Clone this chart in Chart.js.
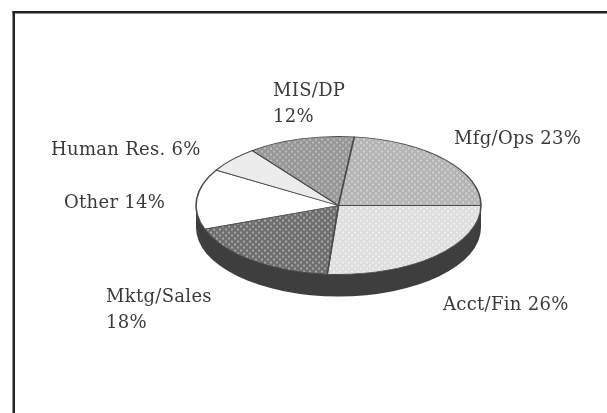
<!DOCTYPE html>
<html>
<head>
<meta charset="utf-8">
<style>html,body{margin:0;padding:0;background:#fff}canvas{display:block}</style>
<script src="https://cdn.jsdelivr.net/npm/chart.js@4"></script>
</head>
<body>
<div style="width:607px;height:413px"><canvas id="pie" width="607" height="413"></canvas></div>
<script>
// Share of staff by function, clockwise from the 3 o'clock position.
const categories = ["Acct/Fin", "Mktg/Sales", "Other", "Human Res.", "MIS/DP", "Mfg/Ops"];
const shares = [26, 18, 14, 6, 12, 23];

// Callout text and where each line of it sits.
const callouts = [
  { lines: ["MIS/DP", "12%"], x: 273, y: 96 },
  { lines: ["Mfg/Ops 23%"], x: 454, y: 144 },
  { lines: ["Human Res. 6%"], x: 51, y: 155 },
  { lines: ["Other 14%"], x: 64, y: 208 },
  { lines: ["Mktg/Sales", "18%"], x: 106, y: 302 },
  { lines: ["Acct/Fin 26%"], x: 443, y: 310 }
];

const RX = 142.5, RY = 69, DEPTH = 22, FACE_Y = 205.5;
const squash = RY / RX;

// Halftone screen: a lattice of pale dots over a flat grey.
function screen(ctx, base, dot) {
  const c = document.createElement("canvas");
  c.width = c.height = 6;
  const g = c.getContext("2d");
  g.fillStyle = base;
  g.fillRect(0, 0, 6, 6);
  g.fillStyle = dot;
  g.fillRect(0, 0, 2, 2);
  g.fillRect(3, 3, 2, 2);
  const p = ctx.createPattern(c, "repeat");
  p.setTransform(new DOMMatrix().scale(1, 1 / squash));
  return p;
}

const ctx = document.getElementById("pie").getContext("2d");
const fills = [
  screen(ctx, "#dedede", "#f0f0f0"),
  screen(ctx, "#6e6e6e", "#a8a8a8"),
  "#ffffff",
  "#ececec",
  screen(ctx, "#979797", "#bcbcbc"),
  screen(ctx, "#b4b4b4", "#d2d2d2")
];

// Flattens the round pie into a disc seen at an angle and draws its rim.
const tiltedDisc = {
  id: "tiltedDisc",
  beforeDatasetsDraw(chart) {
    const arc = chart.getDatasetMeta(0).data[0];
    const c = chart.ctx;
    c.save();
    c.fillStyle = "#3e3e3e";
    c.beginPath();
    c.ellipse(arc.x, FACE_Y + DEPTH, RX, RY, 0, 0, Math.PI);
    c.lineTo(arc.x - RX, FACE_Y);
    c.lineTo(arc.x + RX, FACE_Y);
    c.closePath();
    c.fill();
    c.restore();
    c.save();
    c.translate(0, FACE_Y);
    c.scale(1, squash);
    c.translate(0, -arc.y);
  },
  afterDatasetsDraw(chart) {
    chart.ctx.restore();
  }
};

// Page frame and the callout text.
const annotations = {
  id: "annotations",
  afterDraw(chart) {
    const c = chart.ctx;
    c.save();
    c.fillStyle = "#222222";
    c.fillRect(12.5, 11, 594.5, 2.5);
    c.fillRect(12.5, 11, 2.5, 402);
    c.fillStyle = "#3a3a3a";
    c.font = "18px 'DejaVu Serif'";
    c.letterSpacing = "0.3px";
    c.textBaseline = "alphabetic";
    callouts.forEach(({ lines, x, y }) => {
      lines.forEach((line, i) => c.fillText(line, x, y + i * 26));
    });
    c.restore();
  }
};

new Chart(ctx, {
  type: "pie",
  data: {
    labels: categories,
    datasets: [{
      data: shares,
      backgroundColor: fills,
      borderColor: "#4a4a4a",
      borderWidth: 1.6,
      radius: RX
    }]
  },
  options: {
    responsive: false,
    animation: false,
    rotation: 90,
    layout: { padding: { left: 70 } },
    plugins: { legend: { display: false }, tooltip: { enabled: false }, title: { display: false } }
  },
  plugins: [tiltedDisc, annotations]
});
</script>
</body>
</html>
